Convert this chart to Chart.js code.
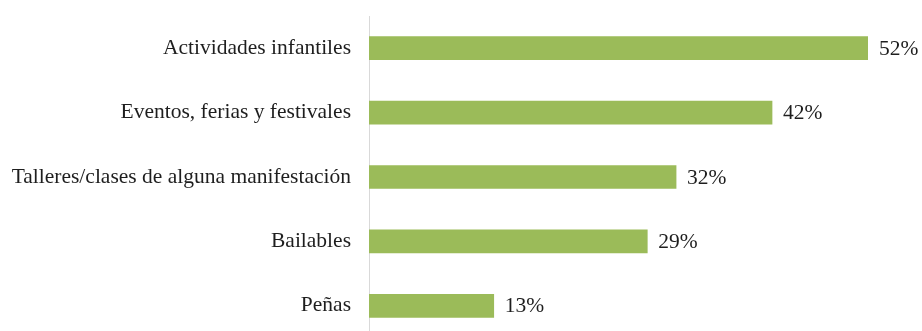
<!DOCTYPE html>
<html lang="es">
<head>
  <meta charset="UTF-8">
  <title>Actividades preferidas</title>
  <script src="https://cdn.jsdelivr.net/npm/chart.js"></script>
  <style>
    html, body {
      margin: 0;
      padding: 0;
      background: #fff;
      overflow: hidden;
    }
    #wrap {
      width: 922px;
      height: 338px;
    }
  </style>
</head>
<body>

<div id="wrap">
  <canvas id="actividadesChart" width="922" height="338"></canvas>
</div>

<script>
const categorias = [
  "Actividades infantiles",
  "Eventos, ferias y festivales",
  "Talleres/clases de alguna manifestación",
  "Bailables",
  "Peñas"
];
const porcentajes = [52, 42, 32, 29, 13];

const fuente = "'Liberation Serif', 'Times New Roman', serif";
const colorTexto = '#1e1e1e';

// etiquetas de valor a la derecha de cada barra
const etiquetasValor = {
  id: 'etiquetasValor',
  afterDatasetsDraw(chart) {
    const ctx = chart.ctx;
    const meta = chart.getDatasetMeta(0);
    ctx.save();
    ctx.font = '21.5px ' + fuente;
    ctx.fillStyle = colorTexto;
    ctx.textAlign = 'left';
    ctx.textBaseline = 'middle';
    meta.data.forEach((bar, i) => {
      ctx.fillText(porcentajes[i] + '%', bar.x + 11, bar.y + 1);
    });
    ctx.restore();
  }
};

new Chart(document.getElementById('actividadesChart'), {
  type: 'bar',
  data: {
    labels: categorias,
    datasets: [{
      data: porcentajes,
      backgroundColor: '#9BBB59',
      borderWidth: 0,
      barThickness: 23
    }]
  },
  options: {
    indexAxis: 'y',
    responsive: false,
    maintainAspectRatio: false,
    animation: false,
    layout: { padding: { top: 16, right: 54, bottom: 0, left: 0 } },
    plugins: {
      legend: { display: false },
      tooltip: { enabled: false }
    },
    scales: {
      x: {
        display: false,
        min: 0,
        max: 52
      },
      y: {
        afterFit(scale) {
          scale.width = 369;
          scale.paddingTop = 0;
          scale.paddingBottom = 0;
        },
        grid: { display: false, drawTicks: false },
        border: { display: true, color: '#d9d9d9', width: 1 },
        ticks: {
          padding: 18,
          color: colorTexto,
          font: { family: fuente, size: 21.5 }
        }
      }
    }
  },
  plugins: [etiquetasValor]
});
</script>

</body>
</html>
